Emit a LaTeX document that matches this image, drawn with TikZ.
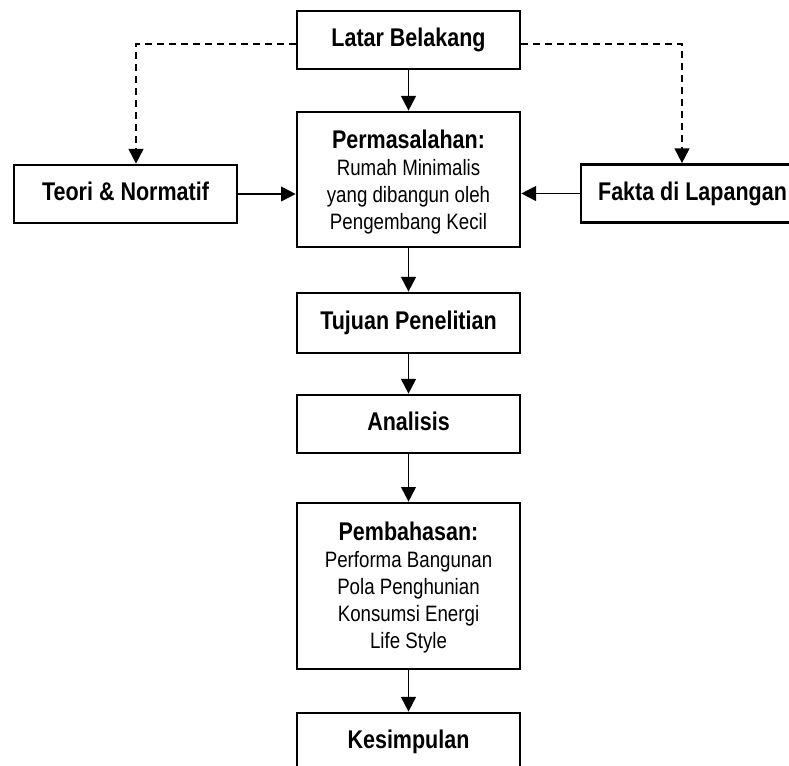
\documentclass[tikz,border=0pt]{standalone}
\usepackage{fontspec}
\setmainfont{Liberation Sans}[FakeStretch=0.84]
\usetikzlibrary{arrows.meta}
\newcommand\fbold{\fontsize{19.2pt}{20.25pt}\selectfont\bfseries}
\newcommand\freg{\fontsize{16.7pt}{20.25pt}\selectfont}
\begin{document}
\begin{tikzpicture}[x=0.75pt,y=-0.75pt,
  box/.style={draw, line width=2pt, minimum width=167.25pt, inner sep=0pt},
  lbl/.style={font=\fbold, text height=14.25pt, text depth=4.1pt},
  txt/.style={font=\freg, inner sep=0pt, anchor=base},
  conn/.style={line width=1.4pt, -{Triangle[length=11pt,width=11pt]}},
  dconn/.style={conn, dash pattern=on 5.25pt off 3.75pt}]
\useasboundingbox (0,0) rectangle (789,766);
\clip (0,0) rectangle (789,766);
\fill[white] (0,0) rectangle (789,766);

\node[box, lbl, minimum height=43.5pt] (latar) at (408.5,40) {Latar Belakang};
\node[box, minimum height=101.25pt] (perm) at (408.5,179.5) {};
\node[txt] (permtxt) at (408.5,148.3) {\begin{tabular}[t]{@{}c@{}}\fbold Permasalahan:\\ Rumah Minimalis\\ yang dibangun oleh\\ Pengembang Kecil\end{tabular}};
\node[box, lbl, minimum height=43.5pt] (teori) at (125.5,194) {Teori \& Normatif};
\node[box, lbl, minimum height=43.5pt] (fakta) at (692.5,193.5) {Fakta di Lapangan};
\node[box, lbl, minimum height=45pt] (tujuan) at (408.5,323) {Tujuan Penelitian};
\node[box, lbl, minimum height=43.5pt] (analisis) at (408.5,424) {Analisis};
\node[box, minimum height=124.5pt] (pemb) at (408.5,586) {};
\node[txt] (pembtxt) at (408.5,540) {\begin{tabular}[t]{@{}c@{}}\fbold Pembahasan:\\ Performa Bangunan\\ Pola Penghunian\\ Konsumsi Energi\\ Life Style\end{tabular}};
\node[box, lbl, minimum height=42.4pt] (kes) at (408.5,741.25) {Kesimpulan};

\draw[conn] (latar) -- (perm);
\draw[conn] (perm) -- (tujuan);
\draw[conn] (tujuan) -- (analisis);
\draw[conn] (analisis) -- (pemb);
\draw[conn] (pemb) -- (kes);
\draw[conn] (teori.east) -- (teori.east -| perm.west);
\draw[conn] (fakta.west) -- (fakta.west -| perm.east);
\coordinate (dl) at (136,44);
\coordinate (dr) at (682,44);
\draw[dconn] (latar.west |- dl) -- (dl) -- (dl |- teori.north);
\draw[dconn] (latar.east |- dr) -- (dr) -- (dr |- fakta.north);
\end{tikzpicture}
\end{document}
